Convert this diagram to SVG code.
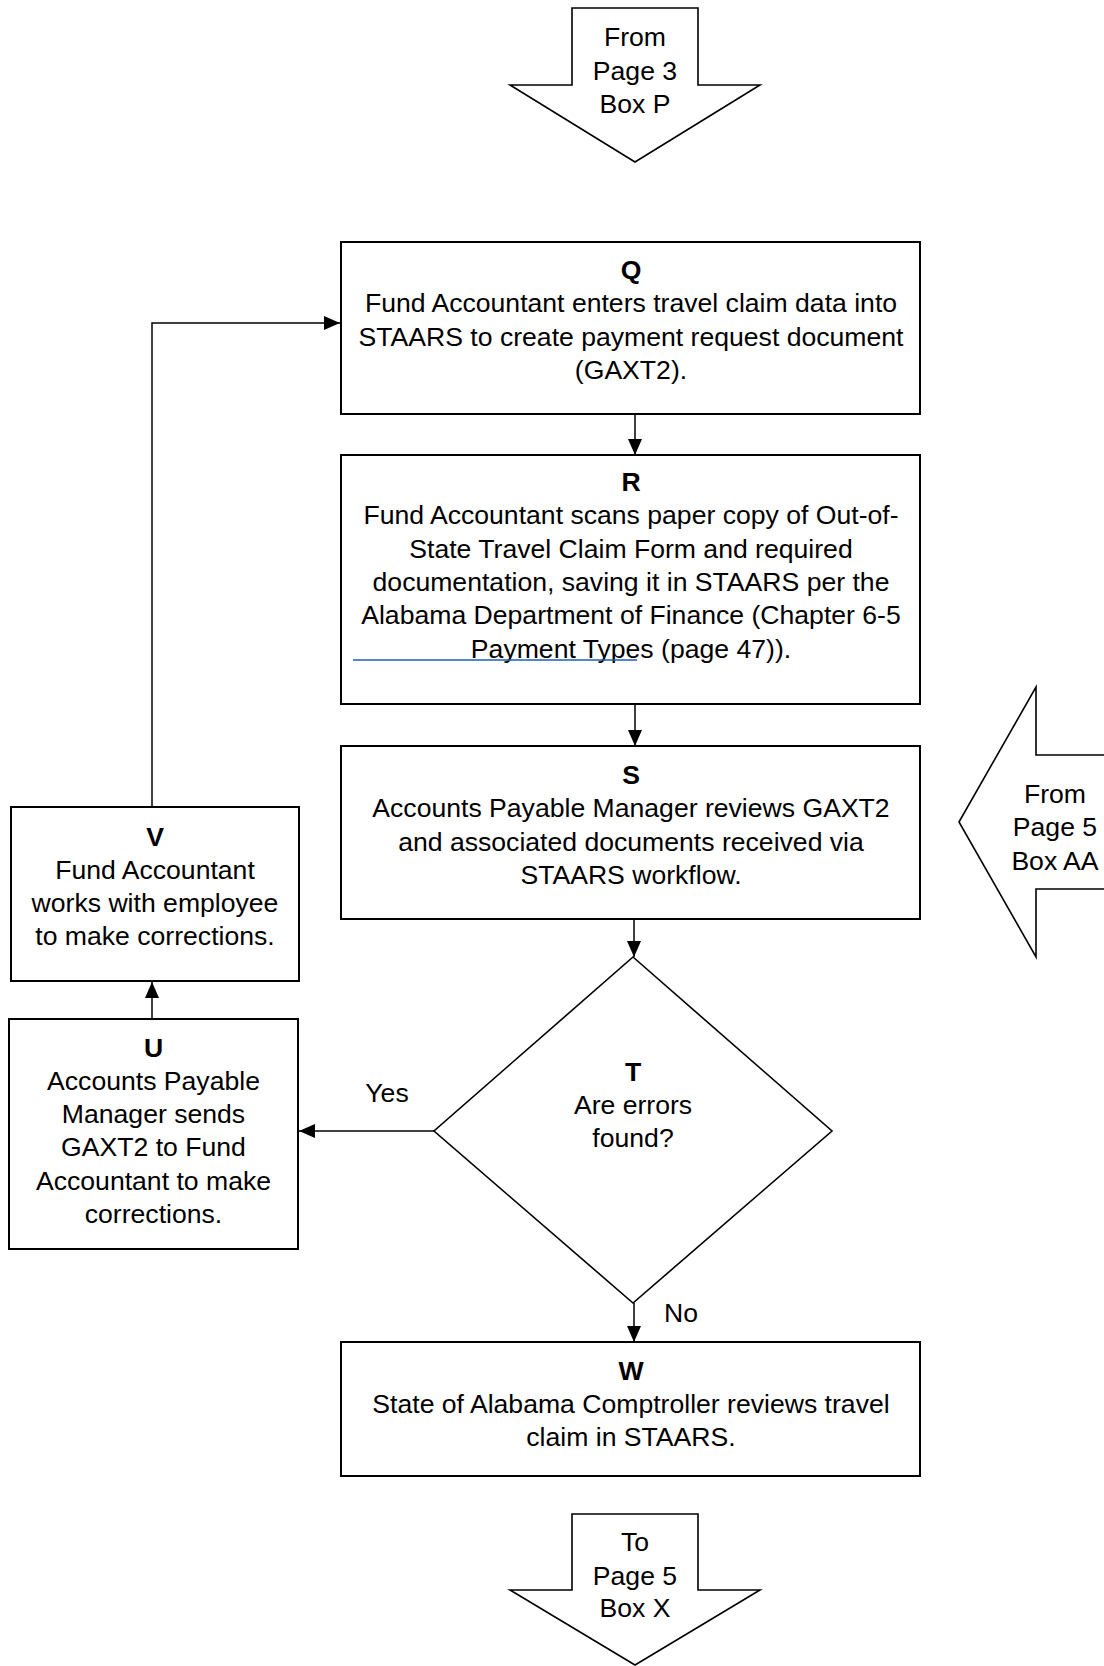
<svg xmlns="http://www.w3.org/2000/svg" width="1104" height="1666" viewBox="0 0 1104 1666">
<style>
.box{fill:#fff;stroke:#000;stroke-width:2}
.shape{fill:#fff;stroke:#000;stroke-width:1.6;stroke-linejoin:miter}
.t{font-family:"Liberation Sans",Arial,sans-serif;font-size:26.6px;fill:#000;text-anchor:middle}
.b{font-weight:bold}
.conn{fill:none;stroke:#000;stroke-width:1.5}
</style>
<defs>
<marker id="ah" markerUnits="userSpaceOnUse" markerWidth="16" markerHeight="14" refX="16" refY="7" orient="auto">
<path d="M0,0 L16,7 L0,14 z" fill="#000"/>
</marker>
</defs>
<rect width="1104" height="1666" fill="#fff"/>

<g id="connectors">
<line class="conn" x1="635" y1="414" x2="635" y2="455" marker-end="url(#ah)"/>
<line class="conn" x1="635" y1="704" x2="635" y2="746" marker-end="url(#ah)"/>
<line class="conn" x1="634" y1="919" x2="634" y2="957" marker-end="url(#ah)"/>
<line class="conn" x1="634" y1="1303" x2="634" y2="1342" marker-end="url(#ah)"/>
<line class="conn" x1="434" y1="1131" x2="299" y2="1131" marker-end="url(#ah)"/>
<line class="conn" x1="152" y1="1019" x2="152" y2="982" marker-end="url(#ah)"/>
<polyline class="conn" points="152,807 152,323 340,323" marker-end="url(#ah)"/>
<text class="t" x="387" y="1102">Yes</text>
<text class="t" x="681" y="1322">No</text>
</g>

<g id="fromP3">
<polygon class="shape" points="572,8 698,8 698,85 760,85 635,162 510,85 572,85"/>
<text class="t" x="635" y="46">From</text>
<text class="t" x="635" y="79.5">Page 3</text>
<text class="t" x="635" y="113">Box P</text>
</g>

<g id="Q">
<rect class="box" x="341" y="242" width="579" height="172"/>
<text class="t b" x="631" y="279">Q</text>
<text class="t" x="631" y="312.3">Fund Accountant enters travel claim data into</text>
<text class="t" x="631" y="345.6">STAARS to create payment request document</text>
<text class="t" x="631" y="378.9">(GAXT2).</text>
</g>

<g id="R">
<rect class="box" x="341" y="455" width="579" height="249"/>
<text class="t b" x="631" y="491">R</text>
<text class="t" x="631" y="524.3">Fund Accountant scans paper copy of Out-of-</text>
<text class="t" x="631" y="557.6">State Travel Claim Form and required</text>
<text class="t" x="631" y="590.9">documentation, saving it in STAARS per the</text>
<text class="t" x="631" y="624.2">Alabama Department of Finance (Chapter 6-5</text>
<text class="t" x="631" y="657.5">Payment Types (page 47)).</text>
<line x1="353" y1="660" x2="637" y2="660" stroke="#1a5fb4" stroke-width="1.6"/>
</g>

<g id="S">
<rect class="box" x="341" y="746" width="579" height="173"/>
<text class="t b" x="631" y="784">S</text>
<text class="t" x="631" y="817.3">Accounts Payable Manager reviews GAXT2</text>
<text class="t" x="631" y="850.6">and associated documents received via</text>
<text class="t" x="631" y="883.9">STAARS workflow.</text>
</g>

<g id="fromP5">
<polygon class="shape" points="959,822 1036,687 1036,755 1112,755 1112,889 1036,889 1036,957"/>
<text class="t" x="1055" y="803">From</text>
<text class="t" x="1055" y="836">Page 5</text>
<text class="t" x="1055" y="870">Box AA</text>
</g>

<g id="T">
<polygon class="shape" points="633,957 832,1131 633,1303 434,1131"/>
<text class="t b" x="633" y="1080.5">T</text>
<text class="t" x="633" y="1114">Are errors</text>
<text class="t" x="633" y="1147">found?</text>
</g>

<g id="V">
<rect class="box" x="11" y="807" width="288" height="174"/>
<text class="t b" x="155" y="845.5">V</text>
<text class="t" x="155" y="878.5">Fund Accountant</text>
<text class="t" x="155" y="911.5">works with employee</text>
<text class="t" x="155" y="944.5">to make corrections.</text>
</g>

<g id="U">
<rect class="box" x="9" y="1019" width="289" height="230"/>
<text class="t b" x="153.5" y="1056.5">U</text>
<text class="t" x="153.5" y="1089.8">Accounts Payable</text>
<text class="t" x="153.5" y="1123.1">Manager sends</text>
<text class="t" x="153.5" y="1156.4">GAXT2 to Fund</text>
<text class="t" x="153.5" y="1189.7">Accountant to make</text>
<text class="t" x="153.5" y="1223">corrections.</text>
</g>

<g id="W">
<rect class="box" x="341" y="1342" width="579" height="134"/>
<text class="t b" x="631" y="1379.5">W</text>
<text class="t" x="631" y="1412.8">State of Alabama Comptroller reviews travel</text>
<text class="t" x="631" y="1446.1">claim in STAARS.</text>
</g>

<g id="toP5">
<polygon class="shape" points="572,1514 698,1514 698,1590 760,1590 635,1665 510,1590 572,1590"/>
<text class="t" x="635" y="1551">To</text>
<text class="t" x="635" y="1584.5">Page 5</text>
<text class="t" x="635" y="1617">Box X</text>
</g>
</svg>
